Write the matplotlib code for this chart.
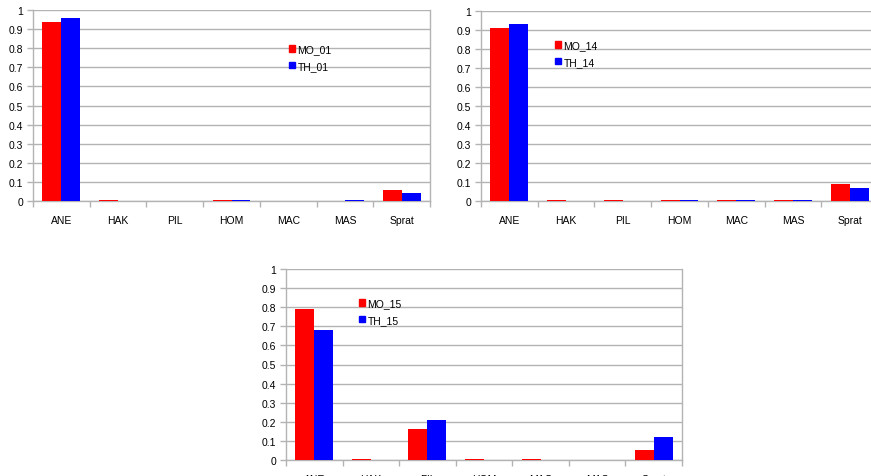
import numpy as np
import matplotlib.pyplot as plt
from matplotlib.patches import Patch

species = ["ANE", "HAK", "PIL", "HOM", "MAC", "MAS", "Sprat"]

mo_01 = [0.937, 0.003, 0.0, 0.003, 0.0, 0.0, 0.055]
th_01 = [0.958, 0.0, 0.0, 0.003, 0.0, 0.003, 0.042]

mo_14 = [0.908, 0.003, 0.003, 0.003, 0.003, 0.003, 0.091]
th_14 = [0.930, 0.0, 0.0, 0.003, 0.003, 0.003, 0.070]

mo_15 = [0.790, 0.004, 0.162, 0.004, 0.004, 0.0, 0.052]
th_15 = [0.680, 0.0, 0.209, 0.0, 0.0, 0.0, 0.120]

W, H = 871, 477
plt.rcParams['font.family'] = ['Liberation Sans', 'DejaVu Sans']
fig = plt.figure(figsize=(W / 100, H / 100), dpi=100)

AXIS_GREY = "#b3b3b3"


def px_axes(left, right, top, bottom):
    return fig.add_axes([left / W, 1 - bottom / H, (right - left) / W, (bottom - top) / H])


def bar_panel(ax, mo, th, lab_mo, lab_th, leg_xy):
    x = np.arange(len(species))
    w = 0.335
    ax.bar(x - w / 2, mo, width=w, color="#ff0000", zorder=3)
    ax.bar(x + w / 2, th, width=w, color="#0000ff", zorder=3)
    ax.set_xlim(-0.5, len(species) - 0.5)
    ax.set_ylim(0, 1)
    ax.set_yticks(np.arange(0, 1.01, 0.1))
    ax.set_yticklabels(["0"] + [f"{v:.1f}" for v in np.arange(0.1, 0.95, 0.1)] + ["1"])
    ax.set_xticks(x)
    ax.set_xticklabels(species)
    ax.set_xticks(np.arange(-0.5, len(species)), minor=True)
    ax.yaxis.grid(True, color=AXIS_GREY, lw=1, zorder=0)
    ax.tick_params(axis="x", which="major", length=0, pad=10, labelsize=7.5, colors="#000000")
    ax.tick_params(axis="x", which="minor", length=4, width=1, color=AXIS_GREY)
    ax.tick_params(axis="y", length=4, width=1, color=AXIS_GREY, labelsize=7.5, pad=3)
    for s in ax.spines.values():
        s.set_color(AXIS_GREY)
        s.set_linewidth(1)
    ax.spines["top"].set_visible(False)
    handles = [Patch(color="#ff0000", label=lab_mo), Patch(color="#0000ff", label=lab_th)]
    ax.legend(handles=handles, loc="upper left", bbox_to_anchor=leg_xy, frameon=False,
              fontsize=7.5, handlelength=0.6, handleheight=0.6, handletextpad=0.2,
              labelspacing=0.65, borderpad=0, borderaxespad=0)


ax1 = px_axes(33, 430, 11, 202)
bar_panel(ax1, mo_01, th_01, "MO_01", "TH_01", ((289 - 33) / 397, (202 - 45) / 191))

ax2 = px_axes(481, 878, 12, 202)
bar_panel(ax2, mo_14, th_14, "MO_14", "TH_14", ((555 - 481) / 397, (202 - 41) / 190))

ax3 = px_axes(286, 682, 270, 461)
bar_panel(ax3, mo_15, th_15, "MO_15", "TH_15", ((359 - 286) / 396, (461 - 299) / 191))

fig.savefig("out.png", dpi=100)
